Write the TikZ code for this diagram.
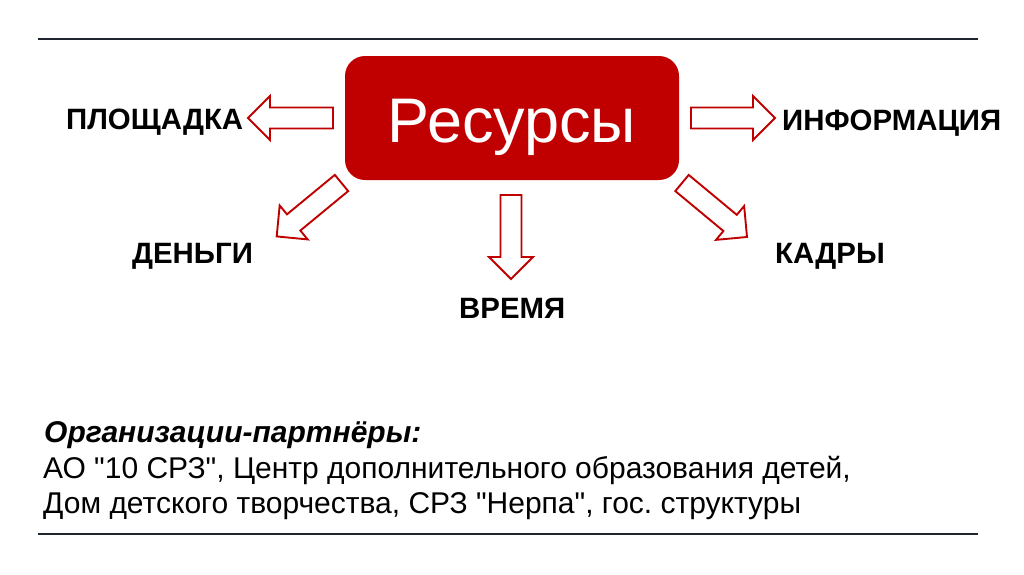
\documentclass[tikz,border=0pt]{standalone}
\usepackage{fontspec}
\setmainfont{Liberation Sans}[Ligatures=TeXOff]
\frenchspacing
\definecolor{boxred}{HTML}{C00000}
\definecolor{rulecol}{HTML}{1F2630}
\newcommand{\blkarrow}[4]{%
  \draw[arrowline, shift={(#1,#2)}, rotate=#3]
    (0pt,-10.5pt) -- ({#4pt-22pt},-10.5pt) -- ({#4pt-22pt},-22pt) -- (#4pt,0pt)
    -- ({#4pt-22pt},22pt) -- ({#4pt-22pt},10.5pt) -- (0pt,10.5pt) -- cycle;}
\tikzset{
  arrowline/.style={draw=boxred, fill=white, line width=1.9pt, line join=miter},
  rulebar/.style={draw=rulecol, line width=2.2pt},
  label/.style={font=\fontsize{29.4}{34}\selectfont\bfseries, inner sep=0pt, anchor=base west, text=black},
  bodytext/.style={font=\fontsize{30}{34}\selectfont, inner sep=0pt, anchor=base west, text=black},
  resbox/.style={rectangle, rounded corners=20pt, fill=boxred, minimum width=334pt, minimum height=124pt,
    inner sep=0pt, text=white, font=\fontsize{63}{70}\selectfont, text height=48pt, text depth=0pt}
}
\begin{document}
\begin{tikzpicture}[x=1pt,y=-1pt]
\useasboundingbox (0,0) rectangle (1024,574);
\fill[white] (0,0) rectangle (1024,574);
% rules
\coordinate (tl) at (38,39);
\coordinate (tr) at (978,39);
\coordinate (bl) at (38,534);
\coordinate (br) at (978,534);
\draw[rulebar] (tl) -- (tr);
\draw[rulebar] (bl) -- (br);
% central box
\node[resbox] (res) at (512,118) {Ресурсы};
% labels
\node[label] (plo) at (66,129) {ПЛОЩАДКА};
\node[label] (inf) at (782,130) {ИНФОРМАЦИЯ};
\node[label] (den) at (132,263) {ДЕНЬГИ};
\node[label] (kad) at (775,263) {КАДРЫ};
\node[label] (vre) at (459,318) {ВРЕМЯ};
% block arrows
\blkarrow{333}{118}{180}{85}
\blkarrow{691}{118}{0}{84}
\blkarrow{511}{195}{-90}{84}
\blkarrow{341.5}{183}{219.5}{84}
\blkarrow{682}{183}{-39.7}{84.5}
% bottom text
\node[bodytext, font=\fontsize{30}{34}\selectfont\bfseries\itshape] (org) at (44,442) {Организации-партнёры:};
\node[bodytext] (l2) at (43,478) {АО "10 СРЗ", Центр дополнительного образования детей,};
\node[bodytext] (l3) at (43,513) {Дом детского творчества, СРЗ "Нерпа", гос. структуры};
\end{tikzpicture}
\end{document}
